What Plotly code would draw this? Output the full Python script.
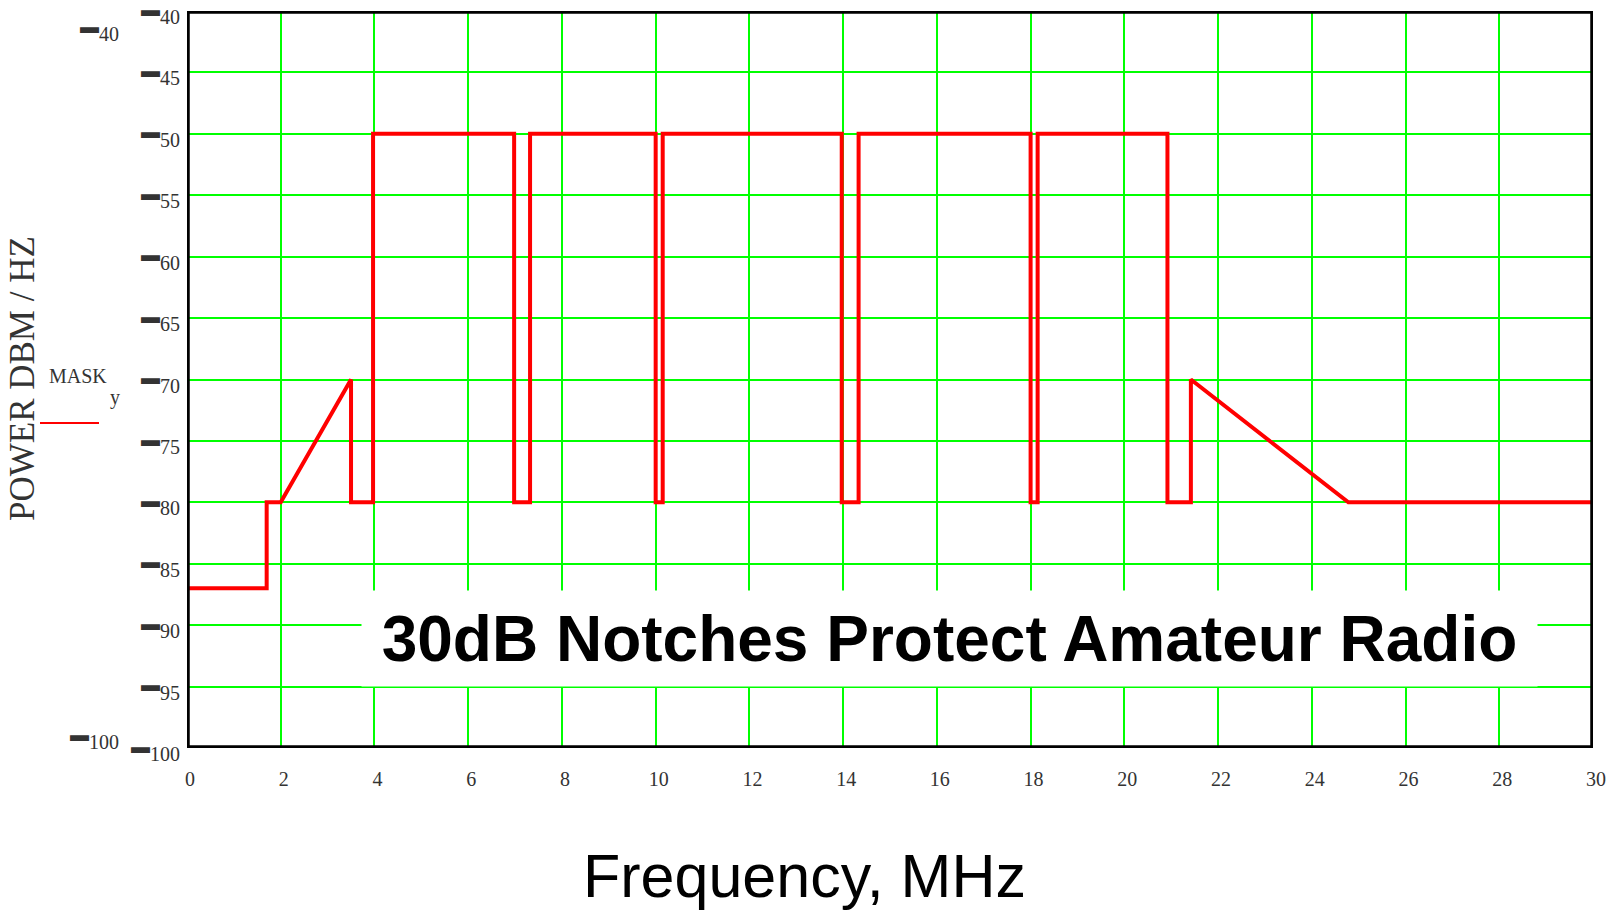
import plotly.graph_objects as go

# PSD mask breakpoints (MHz, dBm/Hz)
freq_mhz = [0, 1.7, 1.7, 2.0, 3.5, 3.5, 3.97, 3.97, 6.98, 6.98, 7.32, 7.32,
            10.0, 10.0, 10.15, 10.15, 13.97, 13.97, 14.33, 14.33,
            18.0, 18.0, 18.15, 18.15, 20.92, 20.92, 21.42, 21.42, 24.78, 30]
mask_dbm = [-87, -87, -80, -80, -70, -80, -80, -50, -50, -80, -80, -50,
            -50, -80, -80, -50, -50, -80, -80, -50,
            -50, -80, -80, -50, -50, -80, -80, -70, -80, -80]

x_ticks = list(range(0, 31, 2))
x_tick_labels = [str(v) for v in x_ticks]
y_ticks = list(range(-100, -39, 5))

DASH = "<sup><span style='font-size:19px'>▬</span></sup>"
y_tick_labels = [DASH + str(abs(v)) for v in y_ticks]

SERIF = "Liberation Serif, Times New Roman, serif"
SANS = "Liberation Sans, Arial, sans-serif"

fig = go.Figure()
fig.add_trace(go.Scatter(
    x=freq_mhz, y=mask_dbm, mode="lines",
    line=dict(color="#ff0000", width=4),
    showlegend=False, hoverinfo="skip",
))

fig.update_layout(
    width=1618, height=912,
    margin=dict(l=187, r=25, t=11, b=164, autoexpand=False),
    paper_bgcolor="white", plot_bgcolor="white",
    font=dict(family=SERIF, size=20, color="#333333"),
    xaxis=dict(
        range=[0, 30], tickvals=x_ticks, ticktext=x_tick_labels,
        showgrid=True, gridcolor="#00ff00", gridwidth=2,
        zeroline=False, showline=False, ticks="", automargin=False,
        ticklabelstandoff=17, ticklabelshift=3, ticklabeloverflow="allow",
        tickfont=dict(family=SERIF, size=20, color="#333333"),
    ),
    yaxis=dict(
        range=[-100, -40], tickvals=y_ticks, ticktext=y_tick_labels,
        showgrid=True, gridcolor="#00ff00", gridwidth=2,
        zeroline=False, showline=False, ticks="", automargin=False,
        ticklabelstandoff=6, ticklabelshift=6, ticklabeloverflow="allow",
        tickfont=dict(family=SERIF, size=20, color="#333333"),
    ),
    shapes=[
        # plot frame
        dict(type="rect", xref="x", yref="y", x0=0, x1=30, y0=-100, y1=-40,
             line=dict(color="black", width=5.5), layer="above"),
        # legend sample line
        dict(type="line", xref="paper", yref="paper",
             x0=(40 - 187) / 1406, x1=(99 - 187) / 1406,
             y0=(748 - 423) / 737, y1=(748 - 423) / 737,
             line=dict(color="#ff0000", width=2)),
    ],
)

def px_x(px):
    return (px - 187) / 1406

def px_y(py):
    return (748 - py) / 737

annotations = [
    dict(text="30dB Notches Protect Amateur Radio", x=px_x(949.5), y=px_y(638.5),
         xref="paper", yref="paper", showarrow=False,
         width=1175, height=95, bgcolor="white", borderpad=0,
         font=dict(family=SANS, size=64, color="black", weight="bold"),
         xanchor="center", yanchor="middle"),
    dict(text="Frequency, MHz", x=px_x(804), y=px_y(876),
         xref="paper", yref="paper", showarrow=False,
         font=dict(family=SANS, size=61, color="black"),
         xanchor="center", yanchor="middle"),
    dict(text="POWER DBM / HZ", x=px_x(23), y=px_y(379),
         xref="paper", yref="paper", showarrow=False, textangle=-90,
         font=dict(family=SERIF, size=35, color="#333333"),
         xanchor="center", yanchor="middle"),
    dict(text="MASK", x=px_x(78), y=px_y(376),
         xref="paper", yref="paper", showarrow=False,
         font=dict(family=SERIF, size=20, color="#333333"),
         xanchor="center", yanchor="middle"),
    dict(text="y", x=px_x(115), y=px_y(398),
         xref="paper", yref="paper", showarrow=False,
         font=dict(family=SERIF, size=20, color="#333333"),
         xanchor="center", yanchor="middle"),
    dict(text=DASH + "40", x=px_x(121), y=px_y(31),
         xref="paper", yref="paper", showarrow=False,
         font=dict(family=SERIF, size=20, color="#333333"),
         xanchor="right", yanchor="middle"),
    dict(text=DASH + "100", x=px_x(121), y=px_y(738),
         xref="paper", yref="paper", showarrow=False,
         font=dict(family=SERIF, size=20, color="#333333"),
         xanchor="right", yanchor="middle"),
]
fig.update_layout(annotations=annotations)

fig.write_html("out.html")
